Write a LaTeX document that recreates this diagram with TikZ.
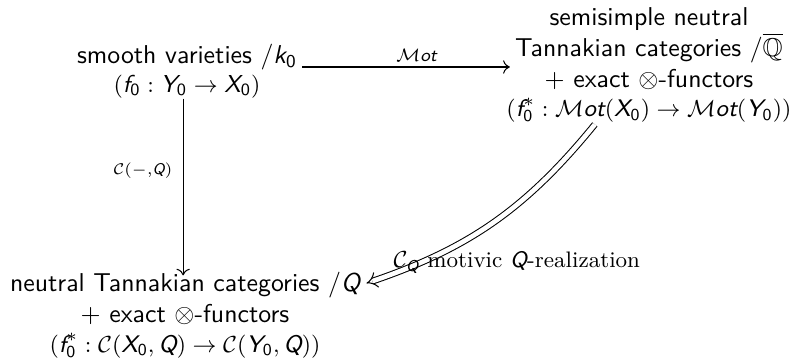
\documentclass[tikz,border=0pt]{standalone}
\usepackage{amsmath,amssymb}
\usetikzlibrary{arrows.meta,calc}
\newcommand\si[1]{\textsf{\itshape #1}}
\newcommand\sz{\textsf{0}}
\newcommand\smA{\fontsize{9.5}{11}\selectfont}
\newcommand\smB{\fontsize{9.3}{11}\selectfont}
\tikzset{
  txt/.style={font=\sffamily, align=center, inner sep=0pt},
  arr/.style={line width=0.4pt, -{To[length=2.6pt,width=5.2pt]}},
  dbl/.style={double, double distance=1.8pt, line width=0.4pt, -{Implies}},
  lbl/.style={inner sep=0pt, font=\sffamily}
}
\begin{document}
\begin{tikzpicture}[x=0.3876pt,y=-0.3876pt]
\useasboundingbox (0,0) rectangle (792,358);
\node[txt] (A) at (187,71) {smooth varieties $/\si{k}_{\sz}$\\[-0.8pt]
  {\smA$(\si{f}_{\sz} : \si{Y}_{\sz}\to \si{X}_{\sz})$}};
\node[txt] (B) at (649,65) {semisimple neutral\\
  Tannakian categories $/\overline{\mathbb{Q}}$\\
  $+$ exact $\otimes$-functors\\[-0.5pt]
  {\smB$(\si{f}_{\sz}^{*} : \mathcal{M}\si{ot}(\si{X}_{\sz}) \to \mathcal{M}\si{ot}(\si{Y}_{\sz}))$}};
\node[txt] (C) at (185,315) {neutral Tannakian categories $/\si{Q}$\\
  $+$ exact $\otimes$-functors\\[-0.3pt]
  {\smB$(\si{f}_{\sz}^{*} : \mathcal{C}(\si{X}_{\sz},\si{Q}) \to \mathcal{C}(\si{Y}_{\sz},\si{Q}))$}};
\coordinate (hA) at ($(A.east)+(5,-4)$);
\draw[arr] (hA) -- ([xshift=1.5pt]hA -| B.west)
  node[pos=0.55, above=2pt, lbl] (mot) {$\scriptstyle\mathcal{M}\si{ot}$};
\draw[arr] ([xshift=-1.5pt]A.south) -- ([shift={(-1.5pt,-1.6pt)}]A.south |- C.north)
  node[pos=0.41, left=4pt, lbl, font=\small\sffamily] (cq) {$\scriptstyle\mathcal{C}(-,\si{Q})$};
\draw[dbl] ([shift={(-21pt,-0.5pt)}]B.south) to[bend left=16] ([shift={(2.3pt,-4.6pt)}]C.north east);
\node[anchor=base west, inner sep=0pt, font=\fontsize{8.7}{10}\selectfont\rmfamily] (lab) at (393,268)
  {$\mathcal{C}_{\si{Q}}$ motivic $\si{Q}$-realization};
\end{tikzpicture}
\end{document}
